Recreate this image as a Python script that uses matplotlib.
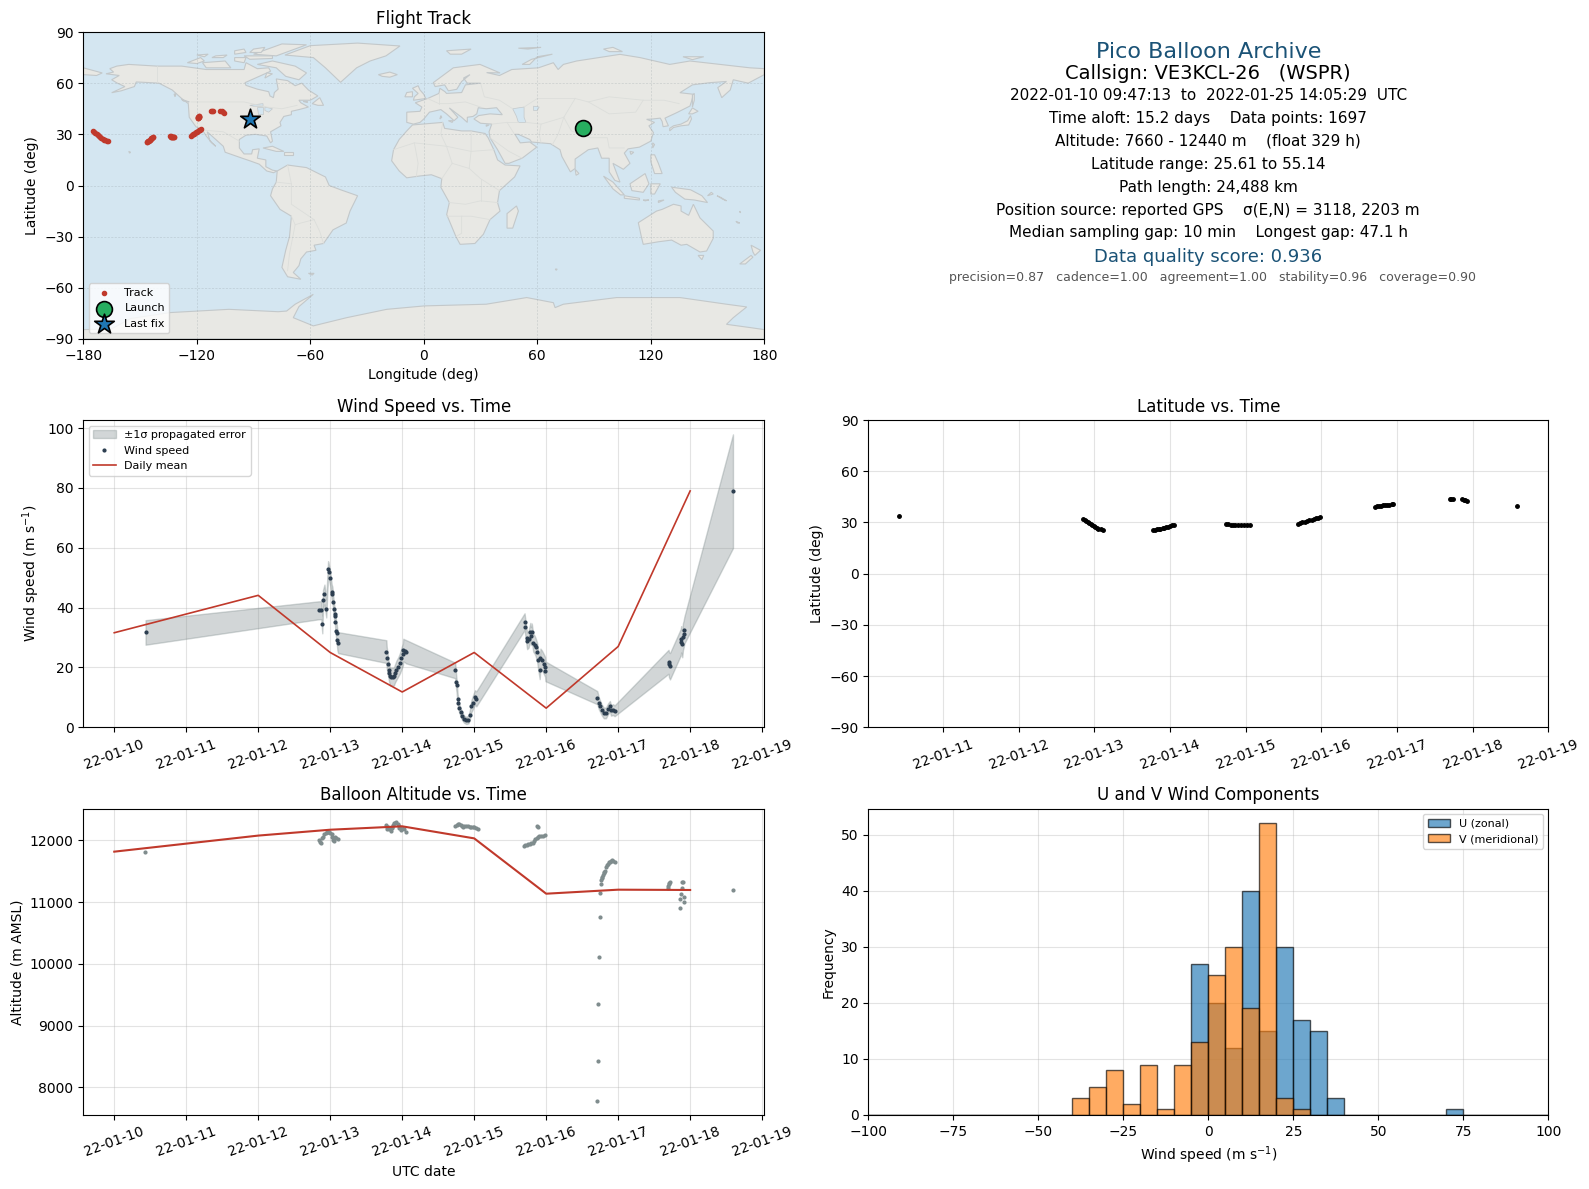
import numpy as np
import matplotlib
matplotlib.use('Agg')
import matplotlib.dates as mdates
from matplotlib import pyplot as plt

# --- values (time = day of January 2022) ---
wind_time = [10.435,
             12.84, 12.875, 12.89, 12.90, 12.92, 12.945, 12.97, 12.98, 13.0, 13.02, 13.03, 13.04, 13.05, 13.06, 13.065, 13.07, 13.085, 13.09, 13.10, 13.11,
             13.78, 13.785, 13.80, 13.81, 13.82, 13.83, 13.85, 13.87, 13.885, 13.90, 13.92, 13.945, 13.97, 13.99, 14.01, 14.015, 14.04, 14.05,
             14.736, 14.75, 14.755, 14.77, 14.78, 14.79, 14.81, 14.83, 14.86, 14.89, 14.92, 14.94, 14.96, 14.977, 15.01, 15.03,
             15.70, 15.71, 15.73, 15.735, 15.755, 15.78, 15.79, 15.80, 15.82, 15.84, 15.855, 15.875, 15.89, 15.91, 15.92, 15.94, 15.97, 15.985, 15.99,
             16.71, 16.73, 16.75, 16.77, 16.80, 16.83, 16.86, 16.885, 16.90, 16.93, 16.95,
             17.70, 17.705, 17.72, 17.87, 17.875, 17.89, 17.90, 17.91, 17.92,
             18.595]
wind_speed = [31.7,
              39.1, 39.1, 34.4, 42.7, 44.4, 39.7, 53.0, 52.0, 49.8, 45.3, 44.5, 42.0, 39.4, 37.8, 37.2, 35.2, 32.1, 31.5, 29.1, 28.3,
              25.3, 23.3, 21.0, 19.3, 18.0, 17.0, 16.9, 16.9, 17.0, 18.0, 19.1, 20.2, 21.5, 23.0, 24.4, 25.8, 25.5, 25.3,
              19.0, 15.0, 14.0, 9.3, 8.0, 6.5, 5.2, 3.8, 2.7, 2.3, 2.6, 4.2, 7.0, 8.0, 10.0, 9.5,
              35.3, 33.4, 29.7, 28.9, 29.4, 31.9, 30.5, 31.7, 28.3, 27.6, 26.7, 25.0, 22.4, 19.3, 23.0, 22.4, 21.0, 20.2, 18.7,
              9.9, 8.1, 7.0, 5.9, 4.8, 4.8, 6.2, 7.0, 5.7, 5.9, 5.5,
              21.9, 21.0, 20.4, 28.5, 29.4, 27.8, 30.3, 31.2, 32.5,
              78.9]
wind_err = [4.1,
            3.0, 3.0, 3.0, 3.2, 3.3, 3.0, 2.5, 2.5, 2.5, 2.5, 2.5, 2.5, 2.5, 2.5, 2.5, 2.5, 3.0, 3.2, 3.4, 3.5,
            3.8, 3.6, 3.3, 3.0, 3.0, 3.0, 3.0, 3.0, 3.0, 3.0, 3.2, 3.2, 3.4, 3.6, 3.7, 3.8, 3.8, 3.9,
            2.6, 2.4, 2.2, 1.8, 1.6, 1.5, 1.4, 1.3, 1.2, 1.2, 1.3, 1.6, 2.0, 2.2, 2.4, 2.5,
            2.8, 2.8, 2.8, 2.8, 2.8, 3.0, 3.0, 3.0, 3.0, 3.0, 3.0, 3.2, 3.2, 3.2, 3.3, 3.3, 3.3, 3.3, 3.3,
            2.2, 2.0, 1.9, 1.8, 1.8, 1.8, 1.8, 1.8, 1.8, 1.8, 1.8,
            4.0, 4.2, 4.4, 4.4, 4.4, 4.4, 4.5, 4.5, 4.5,
            19.0]
wind_day = [10, 12, 13, 14, 15, 16, 17, 18]
wind_day_mean = [31.6, 44.1, 25.0, 11.8, 25.0, 6.4, 27.0, 79.0]

alt_time = [10.43,
            12.85, 12.86, 12.875, 12.89, 12.90, 12.92, 12.94, 12.955, 12.97, 12.99, 13.0, 13.02, 13.03, 13.04, 13.055, 13.07, 13.085, 13.105,
            13.78, 13.785, 13.79, 13.80, 13.81, 13.85, 13.855, 13.86, 13.875, 13.89, 13.905, 13.92, 13.94, 13.95, 13.96, 13.985, 14.0, 14.02, 14.05,
            14.74, 14.755, 14.77, 14.79, 14.81, 14.825, 14.84, 14.865, 14.89, 14.915, 14.94, 14.96, 14.98, 15.0, 15.02, 15.05,
            15.69, 15.71, 15.73, 15.75, 15.77, 15.79, 15.815, 15.83, 15.85, 15.87, 15.885, 15.905, 15.93, 15.955, 15.98, 15.87, 15.885,
            16.70, 16.72, 16.72, 16.73, 16.745, 16.745, 16.76, 16.765, 16.775, 16.78, 16.79, 16.80, 16.81, 16.815, 16.835, 16.845, 16.855, 16.87, 16.885, 16.90, 16.915, 16.93, 16.95,
            17.69, 17.695, 17.70, 17.705, 17.715, 17.89, 17.90, 17.89, 17.875, 17.86, 17.91, 17.91, 17.86,
            18.59]
alt_m = [11810,
         12005, 11968, 11950, 12030, 12060, 12097, 12120, 12130, 12135, 12130, 12115, 12097, 12050, 12005, 11990, 12060, 12040, 12020,
         12248, 12215, 12183, 12221, 12175, 12150, 12190, 12221, 12250, 12275, 12285, 12291, 12259, 12230, 12194, 12167, 12190, 12178, 12130,
         12232, 12245, 12259, 12255, 12248, 12235, 12221, 12230, 12237, 12225, 12216, 12220, 12221, 12212, 12205, 12189,
         11908, 11915, 11924, 11935, 11946, 11955, 11962, 11990, 12022, 12040, 12054, 12065, 12070, 12076, 12081, 12237, 12210,
         7774, 8422, 9345, 10106, 10753, 11142, 11293, 11358, 11385, 11412, 11440, 11466, 11485, 11503, 11574, 11600, 11617, 11640, 11655, 11670, 11682, 11670, 11655,
         11234, 11260, 11288, 11305, 11320, 11320, 11325, 11234, 11126, 11045, 11077, 10996, 10900,
         11190]
alt_day = [10, 12, 13, 14, 15, 16, 17, 18]
alt_day_mean = [11815, 12075, 12170, 12225, 12030, 11135, 11200, 11195]

lat_time = [10.42,
            12.85, 12.87, 12.89, 12.91, 12.93, 12.95, 12.97, 12.99, 13.01, 13.03, 13.05, 13.08, 13.11,
            13.78, 13.80, 13.83, 13.85, 13.87, 13.90, 13.92, 13.95, 13.97, 14.00, 14.03, 14.05,
            14.74, 14.77, 14.80, 14.83, 14.86, 14.90, 14.94, 14.98, 15.02, 15.05,
            15.69, 15.72, 15.75, 15.78, 15.81, 15.84, 15.87, 15.90, 15.93, 15.96, 15.98,
            16.71, 16.74, 16.76, 16.79, 16.81, 16.84, 16.87, 16.90, 16.93, 16.95,
            17.70, 17.72, 17.74, 17.86, 17.88, 17.90, 17.92,
            18.59]
lat_deg = [33.5,
           32.0, 31.5, 31.0, 30.3, 29.6, 29.0, 28.3, 27.8, 27.3, 26.8, 26.4, 26.0, 25.8,
           25.6, 25.7, 25.9, 26.1, 26.3, 26.6, 26.9, 27.2, 27.6, 28.0, 28.4, 28.7,
           28.9, 28.8, 28.7, 28.6, 28.5, 28.4, 28.4, 28.3, 28.3, 28.3,
           29.3, 29.6, 30.0, 30.4, 30.8, 31.2, 31.6, 32.0, 32.4, 32.8, 33.1,
           39.3, 39.5, 39.7, 39.9, 40.0, 40.1, 40.2, 40.4, 40.6, 40.8,
           43.7, 43.6, 43.5, 43.7, 43.4, 43.0, 42.8,
           39.5]
track_lon = [84,
             -175, -174.3, -173.7, -173, -172.4, -171.7, -171, -170.4, -169.7, -169, -168.4, -167.7, -167,
             -146.5, -146.2, -145.9, -145.6, -145.3, -145, -144.7, -144.4, -144.1, -143.8, -143.4, -143,
             -134, -133.8, -133.6, -133.4, -133.2, -133, -132.8, -132.6, -132.3, -132,
             -123, -122.5, -122, -121.5, -121, -120.5, -120, -119.5, -119, -118.5, -118,
             -119.4, -119.4, -119.3, -119.2, -119.2, -119.1, -119.1, -119, -118.9, -118.9,
             -112.5, -112, -111.5, -107.7, -106.8, -106, -105.5,
             -92]

launch_lon, launch_lat = 84, 33.5
last_lon, last_lat = -92, 39.2

bin_edges = np.arange(-100, 105, 5)
hist_left = [-40, -35, -30, -25, -20, -15, -10, -5, 0, 5, 10, 15, 20, 25, 30, 35, 70]
u_count = [0, 0, 0, 0, 0, 0, 0, 27, 20, 12, 40, 15, 30, 17, 15, 3, 1]
v_count = [3, 5, 8, 2, 9, 1, 9, 13, 25, 30, 19, 52, 3, 1, 0, 0, 0]

info_lines = ['Pico Balloon Archive',
              'Callsign: VE3KCL-26   (WSPR)',
              '2022-01-10 09:47:13  to  2022-01-25 14:05:29  UTC',
              'Time aloft: 15.2 days    Data points: 1697',
              'Altitude: 7660 - 12440 m    (float 329 h)',
              'Latitude range: 25.61 to 55.14',
              'Path length: 24,488 km',
              'Position source: reported GPS    \u03c3(E,N) = 3118, 2203 m',
              'Median sampling gap: 10 min    Longest gap: 47.1 h',
              'Data quality score: 0.936',
              'precision=0.87   cadence=1.00   agreement=1.00   stability=0.96   coverage=0.90']

# --- rough coastlines, lon/lat ---
north_america = [(-168, 65.5), (-164, 66.5), (-166, 68.5), (-162.3, 70), (-156, 71), (-141, 70), (-128, 70), (-115, 68), (-108, 68), (-95, 68), (-94, 72), (-88, 68.5), (-82, 69), (-81, 67), (-87, 64), (-94.5, 60.3), (-94, 58.7), (-88, 56.5), (-82, 55), (-81.3, 52.5), (-79.5, 51.5), (-79, 54.5), (-77, 56.5), (-78, 62.5), (-72, 61.5), (-68, 58.5), (-64.5, 60), (-61, 56), (-56, 52.5), (-60, 50), (-66, 50), (-65, 48.5), (-61, 46), (-66, 44.5), (-70, 43.5), (-70, 41.5), (-74, 40.5), (-76, 37), (-75.5, 35), (-81, 31.5), (-80, 26), (-81, 25), (-83, 29), (-89, 30), (-94, 29.5), (-97.5, 27), (-97.5, 22), (-95, 18.5), (-91, 18.5), (-90.5, 21), (-87, 21.5), (-88, 16), (-83.5, 15), (-83.5, 11), (-80, 9), (-77.5, 8.5), (-79.5, 7.5), (-83, 8.5), (-87, 12.5), (-92, 14.5), (-96, 16), (-105, 19.5), (-106, 23), (-112, 29), (-114.5, 31.5), (-113, 26), (-110, 23), (-112, 25), (-115, 29), (-117, 32.5), (-120.5, 34.5), (-124, 40), (-124.5, 48), (-128, 51), (-133, 56), (-140, 60), (-148, 60.5), (-152, 60.7), (-153, 58), (-160, 55.5), (-165, 54.4), (-158, 58), (-162, 60), (-165, 62), (-161, 64.5)]
south_america = [(-77.5, 8.5), (-72, 12), (-62, 10.5), (-52, 5), (-50, 0), (-44, -2.5), (-35, -6), (-39, -15), (-41, -22), (-48, -26), (-53, -34), (-58, -35), (-57, -38), (-62, -39), (-65, -43), (-66, -47), (-69, -51), (-65, -55), (-72, -53.5), (-75, -48), (-73, -38), (-71, -30), (-70, -18), (-76, -14), (-81, -6), (-80, -2), (-78, 2)]
africa = [(-6, 35.5), (10, 37), (11, 33.5), (20, 32), (25, 32), (32.4, 30.5), (34, 28), (37, 21), (39, 15), (43, 12), (50.9, 11.5), (48, 5), (40, -3), (39, -10), (40.3, -15), (35, -20), (31.5, -28.6), (27, -34), (19.2, -34.5), (17, -30), (12.1, -17), (13.5, -10), (9, -1), (9.5, 4), (4, 6.3), (-2, 5.6), (-9, 4.5), (-13, 8.5), (-17, 14.5), (-16, 21), (-13, 27), (-9, 32)]
eurasia = [(-9, 37), (-9, 43), (-2, 43.5), (-1, 46), (-4.5, 48.5), (2, 51), (8, 54), (8.5, 57), (11.2, 55), (12, 54), (20, 54.5), (22, 59), (30, 60), (23, 60), (21, 63), (24.4, 65), (20, 61), (17.4, 56.4), (13, 55.5), (11, 59), (6, 58), (5, 60.3), (15.6, 69), (29.7, 71), (40.3, 66), (33.2, 66.2), (40, 64.5), (46.5, 68), (60.6, 69), (68.5, 72), (71, 68), (73.8, 71), (80.8, 73), (103.7, 76.9), (114.3, 75), (130, 71), (140.7, 73), (156.6, 71), (172.4, 69), (180, 68.5), (180, 65), (171.5, 60), (163.6, 62), (162, 56), (157.5, 51.5), (155.4, 57.4), (160, 61), (151.3, 60.3), (142, 59), (135.4, 54.4), (142.5, 53.5), (141.6, 49.6), (140.7, 46.6), (133.7, 42.7), (127.5, 39.5), (129.3, 35), (126.5, 34.5), (126, 37.5), (125, 39.5), (121, 39), (117.8, 38.8), (122, 37), (119, 35), (121.4, 31), (120, 26), (114, 22.5), (108, 21.5), (106, 19), (109, 13), (105.5, 9.5), (100, 13), (103.7, 2), (101, 3), (98, 8), (98, 16), (94, 16), (92, 22), (87, 21), (80, 15.5), (80, 10), (77.5, 8), (73, 17), (72, 21), (67, 24.5), (57, 25.5), (56, 27), (50, 30), (48.2, 30), (51, 25), (56, 25.5), (59.7, 22.5), (52, 16), (45, 13), (43, 13), (39, 21), (35, 28), (34.5, 31.5), (35.9, 36), (30, 36.5), (26.5, 39), (29, 41), (35, 42), (41.5, 41.5), (38.5, 45.6), (33, 45), (28.8, 45.6), (28, 42), (26, 40.5), (23, 40), (23, 37), (20, 40), (13.5, 45.5), (18, 40), (16, 38), (12, 42), (9, 44.5), (3, 43), (0, 39), (-2, 37), (-5.5, 36)]
greenland = [(-73.4, 76.5), (-60, 82), (-35, 83.5), (-12.6, 81.8), (-20, 76), (-28.4, 73), (-35.5, 69), (-44, 60.5), (-52, 69), (-58.4, 75)]
australia = [(113.4, -21.8), (123, -15), (126, -14), (132, -11), (136, -12), (136, -15), (140, -17.5), (142.5, -11), (146, -19), (153, -26.7), (153, -31), (149.5, -38.4), (146, -39), (139, -34.5), (136, -35), (131, -32), (124, -33), (116, -34.5), (115, -30)]
antarctica = [(-180, -90), (-180, -84.5), (-165, -84), (-155, -78), (-134, -74.5), (-103, -72.6), (-77, -74), (-72.5, -73.6), (-68, -69.6), (-58.4, -63.8), (-66, -71), (-69, -77.5), (-58.4, -82.3), (-40.8, -77.5), (-19.6, -72.6), (0.3, -70.6), (33, -69.6), (54.4, -65.7), (68.5, -68.7), (69.4, -71.6), (73.8, -69.6), (102, -65.7), (135.4, -65.7), (160, -69.6), (170.7, -71.2), (163.6, -77.5), (160, -81.4), (172.5, -83.3), (180, -84.5), (180, -90)]
islands = [
    [(-5.5, 50), (1, 51), (0, 53.5), (-2, 56), (-3, 58.5), (-6, 57), (-3, 54), (-5, 52)],
    [(-10, 52), (-6, 52), (-6, 55), (-9, 54.5)],
    [(-24, 65), (-18, 66.5), (-14, 65), (-18, 63.5), (-22, 64)],
    [(130, 32), (132, 34), (136, 35), (140, 35.5), (141.5, 39), (141, 41), (139.5, 38), (136, 36), (132, 35), (130, 33.5)],
    [(140, 42), (142, 45.5), (145, 43.5), (142, 42)],
    [(142, 46), (143, 50), (143, 54), (142, 53), (142, 49)],
    [(44, -25), (47, -25), (50, -15), (49, -12), (44, -16.5)],
    [(95, 5.5), (100, 2), (106, -5.5), (104, -5.5), (100, -2)],
    [(109, 1), (117, 7), (119, 1), (116, -4), (110, -3)],
    [(106, -6), (114, -7.5), (114, -8.5), (106, -7.5)],
    [(120, 1), (125, 1), (122, -5), (120, -5)],
    [(131, -1), (141, -2.5), (147, -6), (150, -10), (143, -8.5), (138, -8), (133, -4)],
    [(120, 18), (122, 18), (124, 13), (126, 7), (122, 7), (120, 14)],
    [(173, -35), (178, -38), (175, -41), (174, -39)],
    [(173, -41), (174, -42), (170, -46), (167, -46)],
    [(145, -41), (148, -41), (147, -43.5)],
    [(80, 9.5), (82, 7), (80.5, 6)],
    [(-85, 22), (-80, 23), (-74, 20), (-78, 20)],
    [(-74, 19.5), (-69, 19.5), (-69, 18), (-74, 18)],
    [(-80, 73), (-68, 70), (-62, 66), (-66, 62), (-73, 64), (-78, 69), (-88, 71)],
    [(-117, 72), (-105, 73), (-102, 69), (-115, 69)],
    [(-90, 77), (-75, 83), (-62, 82.5), (-78, 76)],
    [(-125, 72), (-118, 75), (-116, 73), (-120, 71.5)],
    [(-95, 76), (-80, 76), (-80, 74.5), (-92, 74)],
    [(-59, 48), (-55, 51.5), (-53, 47), (-56, 47)],
    [(12, 79), (25, 80), (20, 77), (14, 77)],
    [(52, 71), (57, 74), (68, 77), (60, 75.5), (56, 71)],
    [(-156, 20), (-155, 19.5), (-155.5, 19)],
    [(121, 25), (122, 24), (121, 22)],
    [(109, 20), (111, 19.5), (109.5, 18.2)],
    [(-61, -51.5), (-58, -51.5), (-59, -52.5)],
    [(-180, 69), (-175, 67.5), (-170, 66), (-173, 64.5), (-180, 65)],
    [(-100, 75), (-94, 75), (-95, 72), (-100, 73)],
    [(-110, 76), (-104, 76.5), (-106, 75), (-112, 75)],
    [(-120, 76.5), (-114, 77), (-116, 75.5)],
    [(-90, 80), (-84, 81), (-86, 78), (-92, 78)],
    [(-100, 79), (-95, 80), (-94, 78), (-100, 77)],
    [(-83, 66), (-80, 65.5), (-84, 63)],
    [(-64, 49.5), (-62, 49.5), (-62, 49)],
    [(-132, 53.5), (-131, 54), (-131.5, 52)],
    [(-128, 50.5), (-124, 49), (-127, 49.5)],
    [(50, 80.5), (62, 81), (55, 80)],
    [(95, 80), (100, 81), (105, 78.5), (98, 78.5)],
    [(137, 75.5), (148, 75.5), (142, 73.8)],
    [(69.5, -49), (70.5, -49), (70, -49.7)],
    [(152, -4), (153, -5), (150, -6)],
    [(155, -6), (157, -7), (160, -9), (158, -8)],
    [(167, -15), (167.5, -16), (167, -15.5)],
    [(165, -21), (167, -22), (166, -22)],
    [(9, 41), (9.5, 40), (8.5, 39)],
    [(13, 38), (15.5, 38), (15, 37)],
    [(33, 35.5), (34.5, 35.5), (33, 34.7)],
    [(124, -9), (127, -8.5), (124, -10)],
    [(116, -8.5), (119, -8.5), (117, -9)],
]
lakes = [
    [(47, 45), (53, 46), (53, 40), (54, 37), (50, 37), (49, 40.5)],
    [(-92, 47), (-85, 48), (-85, 46.5), (-90, 46.5)],
    [(-88, 46), (-85, 46), (-85, 42), (-87.5, 42)],
    [(-84, 46), (-80, 45), (-82, 43), (-84, 44)],
    [(58, 46.5), (61, 46), (60, 44), (58, 44)],
]
borders = [
    [(-123, 49), (-95, 49), (-83, 46), (-75, 45), (-67, 47)],
    [(-141, 70), (-141, 60)],
    [(-117, 32.5), (-106, 31.5), (-97.5, 26)],
    [(-72, 12), (-70, 1), (-70, -11), (-58, -20), (-55, -27), (-53, -34)],
    [(-70, 1), (-78, 2)],
    [(-70, -18), (-68, -23), (-71, -40), (-72, -50)],
    [(-58, -20), (-65, -22), (-68, -23)],
    [(-16, 21), (-5, 25), (12, 23), (25, 20), (37, 21)],
    [(25, 32), (25, 20), (24, 10), (30, 4), (40, -3)],
    [(10, 37), (9, 30), (12, 23), (15, 13), (9.5, 4)],
    [(-5, 25), (-3, 13), (-4, 5)],
    [(15, 13), (24, 10)],
    [(13.5, -10), (22, -11), (30, -9), (39, -10)],
    [(12, -18), (20, -18), (25, -18), (35, -20)],
    [(20, -18), (20, -28), (17, -30)],
    [(30, 4), (30, -9)],
    [(2, 51), (8, 48), (13, 48), (22, 49), (30, 46)],
    [(8, 54), (8, 48)],
    [(30, 60), (32, 52), (40, 50), (47, 45)],
    [(53, 46), (60, 51), (80, 51), (87, 49), (98, 52), (116, 50), (127, 50), (135, 48)],
    [(80, 51), (74, 40), (62, 36), (54, 37)],
    [(74, 40), (78, 32), (88, 28), (97, 28), (98, 22), (106, 22)],
    [(87, 49), (98, 42), (112, 43), (116, 50)],
    [(36, 36), (44, 37), (48, 30)],
    [(44, 37), (50, 37)],
    [(62, 36), (61, 30), (62, 25)],
    [(74, 40), (71, 30), (68, 24)],
    [(35, 28), (45, 20), (52, 16)],
]

# figure pixel size and axes boxes in pixels from the top-left corner
fig_w, fig_h = 1589, 1189


def make_axes(left, right, top, bottom):
    return fig.add_axes([left / fig_w, 1 - bottom / fig_h, (right - left) / fig_w, (bottom - top) / fig_h])


def date_axis(ax, first, last):
    ax.xaxis.set_major_locator(mdates.DayLocator())
    ax.xaxis.set_major_formatter(mdates.DateFormatter('%y-%m-%d'))
    ax.set_xlim(first, last)
    ax.tick_params(axis='x', labelrotation=20)
    ax.grid(True, alpha=0.35)
    ax.set_axisbelow(True)


base = mdates.date2num(np.datetime64('2022-01-01')) - 1
red = '#c0392b'
navy = '#2c3e50'
grey = '#7f8c8d'
title_blue = '#1a5276'
left_col = (83.3, 764.3)
right_col = (868.3, 1548.3)

fig = plt.figure(figsize=(fig_w / 100, fig_h / 100), dpi=100)

# flight track
ax = make_axes(*left_col, 32, 339)
ax.set_facecolor('#d4e6f1')
land = [north_america, south_america, africa, eurasia, greenland, australia, antarctica] + islands
for poly in land:
    xs, ys = zip(*poly)
    ax.fill(xs, ys, facecolor='#e8e8e4', edgecolor='#c3c8ca', linewidth=0.8, zorder=1)
for poly in lakes:
    xs, ys = zip(*poly)
    ax.fill(xs, ys, facecolor='#d4e6f1', edgecolor='#c3c8ca', linewidth=0.5, zorder=1.1)
for line in borders:
    xs, ys = zip(*line)
    ax.plot(xs, ys, color='#dcdedb', linewidth=0.6, zorder=1.2)
ax.scatter(track_lon, lat_deg, s=9, color=red, zorder=3, label='Track')
ax.scatter([launch_lon], [launch_lat], s=130, color='#27ae60', edgecolor='black', linewidth=1.2, zorder=4, label='Launch')
ax.scatter([last_lon], [last_lat], s=220, marker='*', color='#1f77b4', edgecolor='black', linewidth=1.2, zorder=5, label='Last fix')
ax.set_xlim(-180, 180)
ax.set_ylim(-90, 90)
ax.set_xticks(np.arange(-180, 181, 60))
ax.set_yticks(np.arange(-90, 91, 30))
ax.grid(True, linestyle=(0, (3, 2)), linewidth=0.5, color='#8f9a9f', alpha=0.35, zorder=2)
ax.set_xlabel('Longitude (deg)')
ax.set_ylabel('Latitude (deg)')
ax.set_title('Flight Track')
ax.legend(loc='lower left', fontsize=8, framealpha=0.8)

# summary text
ax = make_axes(*right_col, 32, 339)
ax.axis('off')
info_px = [51.5, 73.5, 95, 118, 140.5, 164, 187.5, 210.5, 233, 257.5, 278]
info_size = [16, 14, 11, 11, 11, 11, 11, 11, 11, 13, 9]
info_color = [title_blue, 'black', 'black', 'black', 'black', 'black', 'black', 'black', 'black', title_blue, '#555555']
info_x = [0.5, 0.5, 0.5, 0.5, 0.5, 0.5, 0.5, 0.5, 0.5, 0.5, 0.506]
for txt, px, py, fs, col in zip(info_lines, info_x, info_px, info_size, info_color):
    ax.text(px, 1 - (py - 32) / 307, txt, transform=ax.transAxes, ha='center', va='center', fontsize=fs, color=col)

# wind speed
ax = make_axes(*left_col, 420, 727.3)
t = base + np.array(wind_time)
speed = np.array(wind_speed)
err = np.array(wind_err)
ax.fill_between(t, speed - err, speed + err, color=grey, alpha=0.35, label='\u00b11\u03c3 propagated error')
ax.plot(t, speed, '.', color=navy, markersize=4, label='Wind speed')
ax.plot(base + np.array(wind_day), wind_day_mean, color=red, linewidth=1.2, label='Daily mean')
date_axis(ax, base + 9.57, base + 19.03)
ax.set_ylim(0, 102.7)
ax.set_ylabel('Wind speed (m s$^{-1}$)')
ax.set_title('Wind Speed vs. Time')
ax.legend(loc='upper left', fontsize=8)

# latitude
ax = make_axes(*right_col, 420, 727.3)
ax.plot(base + np.array(lat_time), lat_deg, '.', color='black', markersize=5)
date_axis(ax, base + 10.01, base + 19.0)
ax.set_ylim(-90, 90)
ax.set_yticks(np.arange(-90, 91, 30))
ax.set_ylabel('Latitude (deg)')
ax.set_title('Latitude vs. Time')

# altitude
ax = make_axes(*left_col, 808.7, 1115)
ax.plot(base + np.array(alt_time), alt_m, '.', color=grey, markersize=4)
ax.plot(base + np.array(alt_day), alt_day_mean, color=red, linewidth=1.5)
date_axis(ax, base + 9.57, base + 19.03)
ax.set_ylim(7555, 12510)
ax.set_xlabel('UTC date')
ax.set_ylabel('Altitude (m AMSL)')
ax.set_title('Balloon Altitude vs. Time')

# u and v
ax = make_axes(*right_col, 808.7, 1115)
ax.hist(hist_left, bins=bin_edges, weights=u_count, color='#1f77b4', alpha=0.65, edgecolor='black', label='U (zonal)')
ax.hist(hist_left, bins=bin_edges, weights=v_count, color='#ff7f0e', alpha=0.65, edgecolor='black', label='V (meridional)')
ax.set_xlim(-100, 100)
ax.set_ylim(0, 54.6)
ax.grid(True, alpha=0.35)
ax.set_axisbelow(True)
ax.set_xlabel('Wind speed (m s$^{-1}$)')
ax.set_ylabel('Frequency')
ax.set_title('U and V Wind Components')
ax.legend(loc='upper right', fontsize=8)

fig.savefig('out.png', dpi=100)
